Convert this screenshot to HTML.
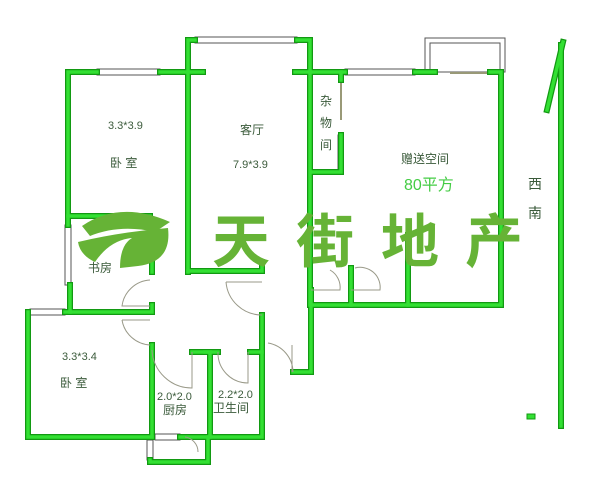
<!DOCTYPE html>
<html><head><meta charset="utf-8"><style>
html,body{margin:0;padding:0;background:#fff;}
svg{display:block;}
text{font-family:"Liberation Sans","Noto Sans CJK SC",sans-serif;}
</style></head><body>
<svg width="600" height="477" viewBox="0 0 600 477" xmlns="http://www.w3.org/2000/svg">
<defs>
<g id="walls">
<path d="M68,225 V72 H97"/>
<path d="M160,72 H203"/>
<path d="M68,216 H150"/>
<path d="M195,40 H188 V272"/>
<path d="M297,40 H310 V305"/>
<path d="M295,72 H345"/>
<path d="M415,72 H435"/>
<path d="M490,72 H501 V305 H311"/>
<path d="M311,172 H341 V135"/>
<path d="M341,72 V80"/>
<path d="M188,271 H262 V262"/>
<path d="M351,268 V305"/>
<path d="M408,235 V305"/>
<path d="M311,290 V372 H293"/>
<path d="M70,285 V312"/>
<path d="M65,312 H152 V305"/>
<path d="M152,255 V272"/>
<path d="M28,312 V437 H152"/>
<path d="M180,437 H262 V315"/>
<path d="M152,345 V437"/>
<path d="M192,352 H210 V437"/>
<path d="M205,352 H218"/>
<path d="M250,352 H262"/>
<path d="M150,460 V462 H208 V437"/>
<path d="M561,45 V426"/>
<path d="M563,42 L547,110"/>
</g>
</defs>
<rect x="425" y="38" width="80" height="34" fill="none" stroke="#555" stroke-width="1"/>
<rect x="430" y="43" width="70" height="29" fill="none" stroke="#555" stroke-width="1"/>
<g fill="#fff" stroke="#555" stroke-width="1">
<rect x="97" y="69" width="63" height="6"/>
<rect x="195" y="37" width="102" height="6"/>
<rect x="345" y="69" width="70" height="6"/>
<rect x="65" y="225" width="6" height="60"/>
<rect x="30" y="309" width="35" height="6"/>
<rect x="338" y="135" width="5" height="35"/>
<rect x="155" y="434" width="25" height="6"/>
<rect x="147" y="440" width="6" height="20"/>
</g>
<line x1="450" y1="73" x2="490" y2="73" stroke="#997" stroke-width="2"/>
<line x1="341" y1="80" x2="341" y2="120" stroke="#997" stroke-width="2"/>
<use href="#walls" fill="none" stroke="#129912" stroke-width="6" stroke-linecap="square"/>
<use href="#walls" fill="none" stroke="#33e033" stroke-width="3.5" stroke-linecap="square"/>
<rect x="527" y="414" width="8" height="5" fill="#33e033" stroke="#129912"/>
<g fill="none" stroke="#998" stroke-width="1">
<path d="M150,280 A30,30 0 0 0 122,306 H150"/>
<path d="M122,320 H150"/>
<path d="M122,320 A30,30 0 0 0 150,345"/>
<path d="M152,350 A40,40 0 0 0 192,388 V352"/>
<path d="M226,282 A36,36 0 0 0 262,315"/>
<path d="M226,282 H262"/>
<path d="M218,352 A30,30 0 0 0 248,383 V352"/>
<path d="M268,343 A30,30 0 0 1 293,372"/>
<path d="M292,345 V372"/>
<path d="M311,290 H340 A20,20 0 0 0 330,270"/>
<path d="M351,290 H380 A20,20 0 0 0 355,268"/>
<path d="M185,437 A15,15 0 0 1 198,452"/>
</g>
<g fill="#3a5a3a" font-size="11">
<text x="108" y="129">3.3*3.9</text>
<text x="110" y="167" font-size="12">卧 室</text>
<text x="240" y="134" font-size="12">客厅</text>
<text x="233" y="168">7.9*3.9</text>
<text x="320" y="105" font-size="12">杂</text>
<text x="320" y="127" font-size="12">物</text>
<text x="320" y="149" font-size="12">间</text>
<text x="401" y="163" font-size="12">赠送空间</text>
<text x="528" y="189" font-size="14">西</text>
<text x="528" y="218" font-size="14">南</text>
<text x="88" y="272" font-size="12">书房</text>
<text x="62" y="360">3.3*3.4</text>
<text x="60" y="387" font-size="12">卧 室</text>
<text x="157" y="400">2.0*2.0</text>
<text x="163" y="414" font-size="12">厨房</text>
<text x="218" y="398">2.2*2.0</text>
<text x="213" y="412" font-size="12">卫生间</text>
</g>
<text x="404" y="190" font-size="16" fill="#44cc44" font-family="Liberation Serif,'Noto Serif CJK SC',serif">80平方</text>
<path d="M82,226 Q120,200 170,222 L155,232 Q120,224 90,236 Z" fill="#66b336"/>
<path d="M78,242 Q120,232 168,228 Q172,262 138,266 L120,268 Q120,245 132,238 Q110,240 95,262 Q80,255 78,242 Z" fill="#66b336"/>
<g fill="#66b336" font-size="58" font-weight="bold" font-family="'Noto Sans CJK SC','WenQuanYi Zen Hei',sans-serif">
<text x="212" y="262">天</text>
<text x="296" y="262">街</text>
<text x="381" y="262">地</text>
<text x="465" y="262">产</text>
</g>
</svg>
</body></html>
